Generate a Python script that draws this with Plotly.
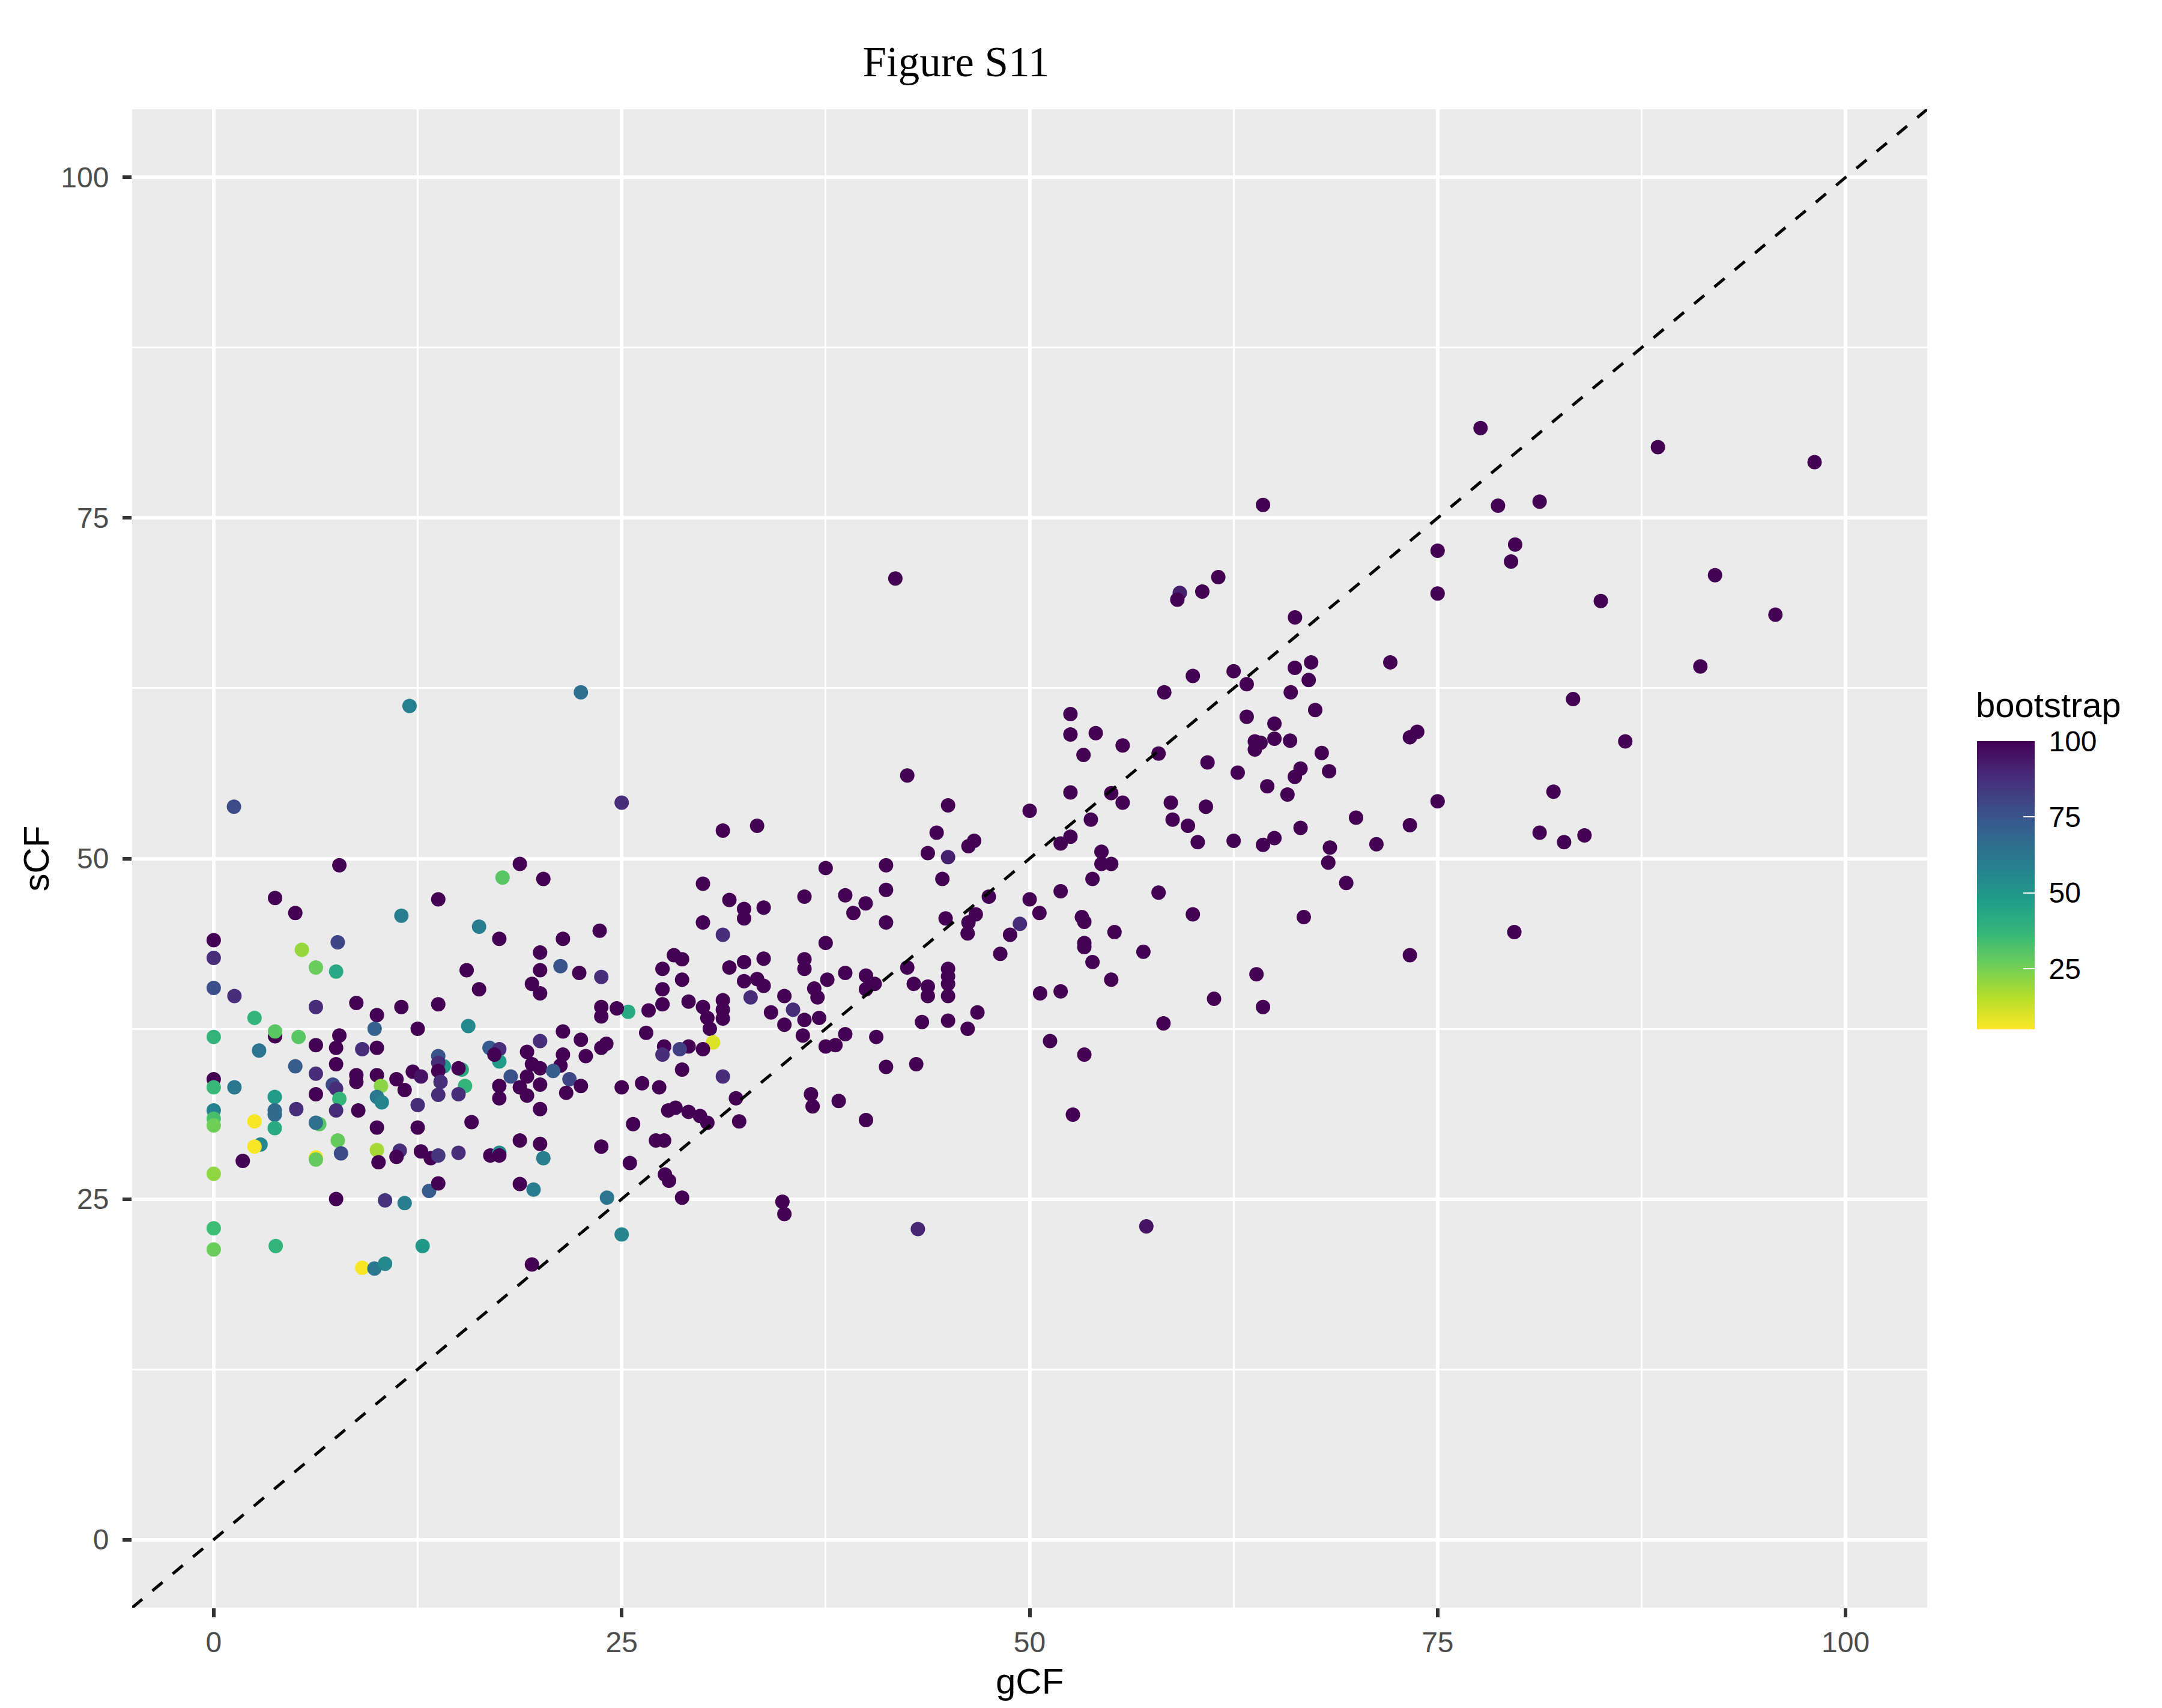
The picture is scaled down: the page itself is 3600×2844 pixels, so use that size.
import plotly.graph_objects as go

# ---- data: gCF, sCF, bootstrap ----
gcf_a = [1.24, 7.7, 3.76, 5.0, 11.5, 13.76, 18.76, 17.7, 20.2, 16.26, 17.5, 0, 0, 5.4, 6.26, 7.5, 7.6,
         15.5, 16.26, 20, 20, 19.5, 20, 0, 1.27, 6.26, 8.74, 11.5, 13.76, 10.0, 9.86, 12.5, 15.6, 2.5, 0,
         3.76, 3.76, 5.2, 2.78, 6.26, 7.5, 7.7, 9.1, 10.0, 5.0, 6.26, 7.5, 8.74, 8.74, 10, 7.3, 7.5, 0, 0,
         1.27, 10.25, 11.2, 11.7, 12.2, 12.7, 14.1, 13.76, 13.76, 13.76, 13.9, 15.2, 15.0, 15.4, 13.76, 15.0,
         16.9, 17.5, 17.5, 17.2, 18.2, 17.5, 17.5, 19.2, 20, 19.5, 20, 19.2, 20, 18.76, 19.2, 20, 3.74, 3.74,
         3.74, 5.06, 6.26, 7.7, 7.5, 8.86, 10, 10.3, 12.5, 0, 0, 0, 2.5, 3.74, 6.47, 6.26, 10, 12.5, 15.8,
         18.76, 20, 20.2, 2.87, 2.5, 1.78, 6.26, 6.26, 7.6, 7.8, 10, 11.4, 11.2, 10.1, 12.7, 13.3, 13.76,
         15.0, 16.95, 17.5, 17.5, 0, 13.2, 13.76, 7.5, 10.5, 11.7, 18.76, 19.6, 0, 0, 3.8, 12.8, 9.1, 9.85,
         10.5, 19.5, 12.0, 22.5]
scf_a = [53.8, 49.5, 47.1, 46.0, 45.8, 47.0, 49.6, 48.6, 48.5, 45.0, 44.1, 44.0, 42.7, 43.3, 42.0, 41.7, 43.85,
         41.8, 40.4, 43.1, 41.8, 40.8, 40.1, 40.5, 39.9, 39.1, 39.4, 39.1, 39.3, 38.5, 37.5, 37.5, 37.7, 38.3, 36.9,
         36.95, 37.3, 36.9, 35.9, 36.3, 36.1, 37.0, 36.0, 36.1, 34.75, 34.2, 34.9, 34.1, 33.6, 34.1, 33.4, 33.1, 33.8, 33.2,
         33.2, 33.3, 33.8, 33.0, 34.35, 34.0, 34.75, 35.5, 35.0, 34.4, 33.6, 34.5, 34.6, 33.3, 32.65, 32.7,
         36.1, 36.0, 35.1, 35.6, 34.0, 33.3, 32.4, 35.8, 36.6, 34.9, 34.6, 34.0, 33.4, 33.2, 32.6, 31.6, 32.5, 31.5,
         31.2, 31.6, 32.7, 32.35, 31.5, 31.5, 32.5, 32.1, 31.9, 31.5, 30.9, 30.4, 30.7, 30.2, 30.5, 30.6, 30.25, 30.25, 30.65,
         29.3, 29.05, 28.0, 29.0, 28.85, 27.8, 28.05, 27.9, 29.3, 28.35, 28.6, 28.55, 28.1, 27.7, 28.5, 28.0, 28.2,
         28.4, 28.2, 28.4, 28.2, 26.85, 25.6, 26.15, 25.0, 24.9, 24.7, 26.1, 25.7, 22.85, 21.3, 21.55, 21.55, 19.95, 19.9,
         20.25, 20.2, 61.2, 62.2]
boot_a = [78, 100, 100, 100, 60, 100, 100, 30, 100, 60, 100, 100, 88, 20, 27, 43, 80,
          100, 100, 100, 100, 100, 100, 77, 88, 88, 100, 100, 100, 100, 70, 100, 55, 38, 38,
          100, 30, 30, 63, 100, 100, 100, 88, 100, 72, 88, 100, 100, 100, 100, 78, 88, 100, 36,
          62, 22, 100, 100, 100, 95, 50, 75, 88, 100, 88, 42, 100, 38, 88, 88,
          73, 88, 48, 100, 76, 100, 100, 100, 88, 100, 100, 100, 100, 100, 100, 100, 48, 67,
          67, 88, 100, 37, 88, 100, 62, 57, 88, 58, 33, 26, 6, 42, 30, 65, 100, 100, 100,
          100, 100, 60, 56, 6, 100, 6, 28, 28, 78, 18, 88, 100, 100, 100, 100, 85,
          88, 100, 55, 100, 21, 72, 100, 100, 86, 60, 100, 60, 35, 27, 38, 50, 6, 62,
          55, 100, 58, 65]

gcf_b = [25, 31.2, 33.3, 29.98, 31.6, 32.5, 32.5, 33.7, 37.5, 36.2, 38.7, 39.95, 39.2, 41.2, 41.2, 41.2, 29.98,
         31.2, 23.65, 21.4, 21.25, 22.4, 23.75, 28.2, 28.7, 27.5, 28.7, 27.5, 32.5, 31.6, 33.7, 37.5, 36.2, 36.2,
         38.7, 37.6, 39.97, 40.5, 39.97, 36.8, 37.0, 32.5, 33.3, 33.7, 32.9, 34.97, 35.5, 34.15, 34.97, 36.2, 37.1,
         36.1, 37.5, 38.1, 38.7, 40.6, 41.2, 31.2, 31.2, 31.2, 29.98, 30.25, 30.4, 29.1, 27.5, 26.65, 25.4, 24.7,
         23.75, 23.75, 26.5, 30.6, 29.98, 29.1, 28.56, 27.6, 27.5, 28.7, 31.2, 21.4, 22.5, 23.75, 24.06, 21.4, 22.8,
         21.25, 20.8, 21.8, 21.6, 22.5, 25.0, 26.25, 27.3, 27.85, 28.3, 29.1, 29.8, 30.25, 25.7, 32.0, 32.2, 23.75,
         27.1, 27.6, 25.5, 27.65, 27.9, 28.7, 24.1, 25.0, 36.6, 36.7, 38.3, 39.97, 34.85, 34.97]
scf_b = [54.1, 52.05, 52.4, 48.15, 46.96, 46.3, 45.6, 46.4, 49.3, 47.2, 47.3, 46.7, 46.0, 49.5, 47.7, 45.3, 45.3,
         44.4, 44.7, 44.1, 42.1, 41.6, 41.3, 42.9, 42.6, 41.9, 41.1, 40.4, 42.4, 42.0, 42.65, 43.8, 42.6, 41.9,
         41.6, 41.1, 41.4, 40.8, 40.4, 40.45, 39.8, 41.0, 41.15, 40.65, 39.8, 39.9, 38.9, 38.7, 37.8, 38.15, 38.3,
         37.0, 36.2, 36.3, 37.1, 36.9, 34.7, 39.6, 38.9, 38.25, 39.1, 38.3, 37.5, 39.5, 39.3, 38.85, 38.75, 39.0,
         39.1, 38.4, 37.2, 36.5, 36.0, 36.2, 36.0, 36.2, 35.6, 34.5, 34.0, 37.3, 36.7, 36.1, 36.4, 35.6, 35.5,
         34.8, 34.4, 33.8, 32.8, 33.3, 33.2, 33.5, 33.2, 31.5, 31.7, 31.4, 31.1, 30.6, 30.5, 32.4, 30.7, 28.85,
         29.3, 29.3, 27.65, 26.8, 26.35, 25.1, 25.1, 22.4, 32.7, 31.8, 32.2, 30.8, 24.8, 23.9]
boot_b = [88, 100, 100, 100, 100, 100, 100, 100, 100, 100, 100, 100, 100, 100, 100, 100, 100,
          88, 100, 100, 75, 100, 88, 100, 100, 100, 100, 100, 100, 100, 100, 100, 100, 100,
          100, 100, 100, 100, 100, 100, 100, 100, 100, 100, 88, 100, 88, 100, 100, 100, 100,
          100, 100, 100, 100, 100, 100, 100, 100, 100, 100, 100, 100, 100, 100, 100, 42, 100,
          100, 100, 100, 10, 100, 100, 82, 100, 88, 100, 88, 100, 100, 100, 100, 100, 100,
          100, 72, 80, 100, 100, 100, 100, 100, 100, 100, 100, 100, 100, 100, 100, 100, 100,
          100, 100, 100, 100, 100, 100, 63, 57, 100, 100, 100, 100, 100, 100]

gcf_c = [42.5, 45.0, 44.3, 43.76, 45.0, 46.25, 46.6, 44.65, 44.85, 46.25, 46.7, 46.2, 47.5, 50.0, 50.0, 50.6,
         49.4, 48.8, 48.2, 42.5, 42.9, 43.76, 43.76, 45.0, 45.0, 45.0, 45.0, 43.4, 45.0, 46.2, 46.8, 43.05, 43.15,
         52.5, 52.5, 54.05, 53.3, 55.7, 52.5, 55.0, 55.7, 53.75, 52.5, 51.9, 54.4, 54.4, 55.0, 53.85, 51.9, 53.2,
         53.35, 55.2, 53.35, 53.35, 53.85, 56.97, 55.0, 50.64, 51.9, 51.25, 53.35, 52.65, 57.15, 58.25, 60.0, 57.9,
         60.9, 58.65, 58.76, 59.7, 60.8, 60.3, 57.9, 60.0, 58.2, 61.3, 62.5, 63.3, 62.75, 63.3, 63.8, 64.15, 63.8,
         65.0, 65.0, 65.96, 64.56, 65.8, 66.25, 66.6, 62.5, 64.3, 65.0, 66.6, 63.9, 64.3, 66.0, 66.25, 66.8]
scf_c = [56.1, 53.9, 51.9, 50.4, 50.1, 50.9, 51.3, 48.5, 45.6, 45.3, 45.9, 44.5, 47.2, 53.5, 47.0, 46.0,
         45.2, 44.4, 43.0, 42.0, 40.8, 40.6, 39.9, 41.9, 41.35, 40.8, 39.9, 38.0, 38.1, 37.5, 38.7, 34.9, 22.8,
         60.6, 59.1, 59.2, 57.6, 58.3, 54.85, 54.8, 54.1, 52.85, 51.6, 51.1, 50.5, 49.6, 49.6, 48.5, 47.6, 45.7,
         45.35, 44.6, 43.8, 43.5, 42.4, 43.15, 41.1, 40.1, 40.25, 36.6, 35.6, 31.2, 23.0, 62.2, 63.4, 57.7,
         57.05, 54.1, 52.85, 52.4, 53.8, 51.2, 47.5, 45.9, 37.9, 39.7, 63.75, 62.8, 56.3, 60.4, 58.6, 58.5, 58.0,
         59.9, 58.8, 58.65, 55.3, 54.7, 56.0, 56.6, 51.3, 51.0, 51.5, 52.25, 41.5, 39.1, 62.2, 64.0, 45.7]
boot_c = [100, 100, 100, 100, 92, 100, 100, 100, 100, 100, 100, 100, 100, 100, 100, 100,
          88, 100, 100, 100, 100, 100, 100, 100, 100, 100, 100, 100, 100, 100, 100, 100, 90,
          100, 100, 100, 100, 100, 100, 100, 100, 100, 100, 100, 100, 100, 100, 100, 100, 100,
          100, 100, 100, 100, 100, 100, 100, 100, 100, 100, 100, 100, 95, 100, 100, 100,
          100, 100, 100, 100, 100, 100, 100, 100, 100, 100, 100, 100, 100, 100, 100, 100, 100,
          100, 100, 100, 100, 100, 100, 100, 100, 100, 100, 100, 100, 100, 100, 100, 100]

gcf_d = [41.77, 64.3, 61.56, 60.58, 59.2, 59.05, 66.26, 67.25, 67.1, 67.5,
         77.63, 88.5, 98.1, 78.7, 81.25, 75.0, 79.75, 79.5, 75.0, 85.0, 92.0, 95.7, 91.1, 72.1, 73.75, 73.3,
         67.9, 68.35, 75.0, 70.0, 73.3, 68.4, 71.25, 68.3, 69.4, 73.3, 79.7, 83.3, 86.5, 82.1, 81.25, 82.75, 84.0]
scf_d = [70.56, 75.96, 70.66, 69.6, 69.5, 69.0, 67.7, 64.4, 63.1, 60.9,
         81.6, 80.2, 79.1, 75.9, 76.2, 72.6, 73.05, 71.8, 69.45, 68.9, 70.8, 67.9, 64.1, 64.4, 59.3, 58.9,
         57.75, 56.4, 54.2, 53.0, 52.45, 50.8, 51.05, 49.7, 48.2, 42.9, 44.6, 61.7, 58.6, 54.9, 51.9, 51.2, 51.7]
boot_d = [100, 100, 100, 100, 92, 100, 100, 100, 100, 100,
          100, 100, 100, 100, 100, 100, 100, 100, 100, 100, 100, 100, 100, 100, 100, 100,
          100, 100, 100, 100, 100, 100, 100, 100, 100, 100, 100, 100, 100, 100, 100, 100, 100]

gcf = gcf_a + gcf_b + gcf_c + gcf_d
scf = scf_a + scf_b + scf_c + scf_d
bootstrap = boot_a + boot_b + boot_c + boot_d

axis_range = [-5, 105]
major_ticks = [0, 25, 50, 75, 100]
minor_ticks = [12.5, 37.5, 62.5, 87.5]
cbar_ticks = [25, 50, 75, 100]
cbar_range = [5, 100]

NB = "\u00a0"

# pixel geometry of the plotting panel (figure is 3600 x 2844)
W, H = 3600, 2844
ML, MR, MT, MB = 212, 399, 174, 175
plot_w = W - ML - MR
plot_h = H - MT - MB


def px_x(px):
    return (px - ML) / plot_w


def px_y(py):
    return (H - MB - py) / plot_h


fig = go.Figure()
fig.add_trace(go.Scatter(
    x=gcf, y=scf, mode="markers",
    marker=dict(
        size=24, color=bootstrap, colorscale="Viridis", reversescale=True,
        cmin=cbar_range[0], cmax=cbar_range[1], line=dict(width=0),
        colorbar=dict(
            tickvals=cbar_ticks, ticktext=[NB + str(t) for t in cbar_ticks],
            ticks="inside", ticklen=19, tickwidth=2, tickcolor="white",
            tickfont=dict(family="Liberation Sans", size=48, color="black"),
            thickness=96, thicknessmode="pixels",
            len=480, lenmode="pixels",
            x=px_x(3284), xanchor="left", xref="paper",
            y=px_y(1706), yanchor="bottom", yref="paper",
            xpad=0, ypad=0, outlinewidth=0,
        ),
    ),
    showlegend=False, hoverinfo="x+y",
))
fig.add_trace(go.Scatter(
    x=axis_range, y=axis_range, mode="lines",
    line=dict(color="black", width=5, dash="22px,22px"),
    showlegend=False, hoverinfo="skip",
))

axis_common = dict(
    range=axis_range, tickvals=major_ticks,
    showgrid=True, gridcolor="white", gridwidth=6,
    minor=dict(tickvals=minor_ticks, showgrid=True, gridcolor="white", gridwidth=3, ticks=""),
    ticks="outside", ticklen=15, tickwidth=6, tickcolor="#333333",
    tickfont=dict(family="Liberation Sans", size=48, color="#4D4D4D"),
    zeroline=False, showline=False,
)

fig.update_layout(
    width=W, height=H,
    margin=dict(l=ML, r=MR, t=MT, b=MB, autoexpand=False),
    paper_bgcolor="white", plot_bgcolor="#EBEBEB",
    showlegend=False,
    title=dict(text="Figure S11", x=1584 / W, xref="container", xanchor="center",
               y=1 - 94 / H, yref="container", yanchor="middle",
               font=dict(family="Liberation Serif", size=71, color="black")),
    xaxis=dict(**axis_common),
    yaxis=dict(**axis_common, ticklabelstandoff=13,
               title=dict(text="sCF", standoff=0,
                          font=dict(family="Liberation Sans", size=60, color="black"))),
    annotations=[
        dict(text="bootstrap", x=px_x(3280), y=px_y(1200), xref="paper", yref="paper",
             xanchor="left", yanchor="bottom", showarrow=False,
             font=dict(family="Liberation Sans", size=58, color="black")),
        dict(text="gCF", x=0.5, y=px_y(2792), xref="paper", yref="paper",
             xanchor="center", yanchor="middle", showarrow=False,
             font=dict(family="Liberation Sans", size=60, color="black")),
    ],
)

fig.write_html("out.html")
